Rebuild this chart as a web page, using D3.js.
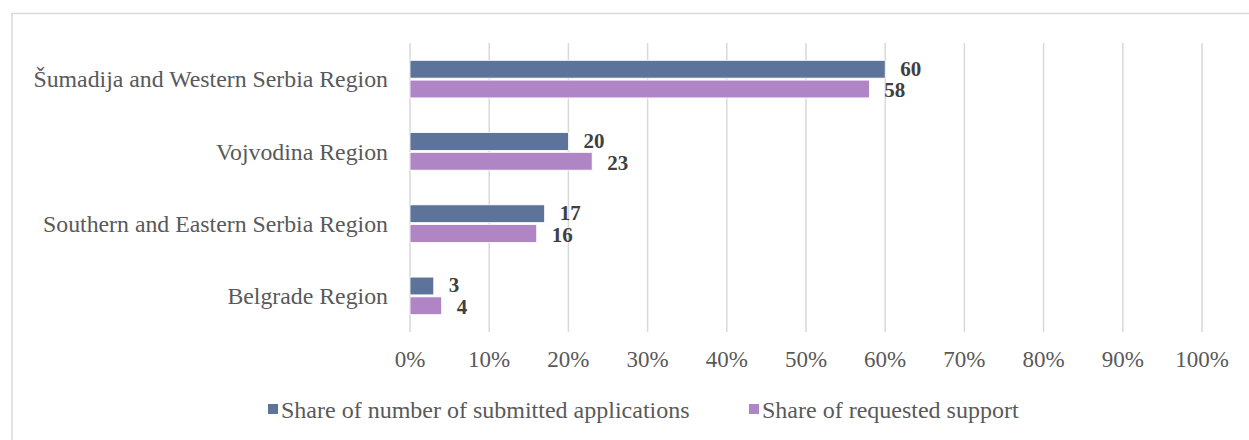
<!DOCTYPE html>
<html>
<head>
<meta charset="utf-8">
<script src="https://cdn.jsdelivr.net/npm/d3@7"></script>
<style>
  body { margin: 0; background: #fff; }
  text { font-family: "Liberation Serif", "Times New Roman", serif; }
</style>
</head>
<body>
<div id="chart"></div>
<script>
const regions = ['Šumadija and Western Serbia Region', 'Vojvodina Region', 'Southern and Eastern Serbia Region', 'Belgrade Region'];
const applications = [60, 20, 17, 3];
const support = [58, 23, 16, 4];
const seriesNames = ['Share of number of submitted applications', 'Share of requested support'];
const ticks = [0, 10, 20, 30, 40, 50, 60, 70, 80, 90, 100];

const W = 1249, H = 440;
const colors = ['#5e7399', '#af85c5'];

const svg = d3.select('#chart').append('svg')
  .attr('width', W).attr('height', H);

// outer frame
svg.append('rect')
  .attr('x', 12).attr('y', 13.5).attr('width', W + 20).attr('height', H + 20)
  .attr('fill', 'none').attr('stroke', '#d9d9d9').attr('stroke-width', 1.5);

const x = d3.scaleLinear().domain([0, 100]).range([410, 1202]);
const y = d3.scaleBand().domain(regions).range([43, 332]).paddingInner(0.48).paddingOuter(0.24);
const sub = d3.scaleBand().domain([0, 1]).range([0, y.bandwidth()]).paddingInner(0.1);

// gridlines
svg.append('g').selectAll('line')
  .data(ticks).join('line')
    .attr('x1', d => x(d)).attr('x2', d => x(d))
    .attr('y1', 43).attr('y2', 332)
    .attr('stroke', '#d9d9d9').attr('stroke-width', 1.5);

// tick labels
svg.append('g').selectAll('text')
  .data(ticks).join('text')
    .attr('x', d => x(d)).attr('y', 367)
    .attr('text-anchor', 'middle')
    .attr('font-size', '23px').attr('fill', '#595959')
    .text(d => d + '%');

// category labels
svg.append('g').selectAll('text')
  .data(regions).join('text')
    .attr('x', 388).attr('y', d => y(d) + y.bandwidth() / 2)
    .attr('dy', '0.35em')
    .attr('text-anchor', 'end')
    .attr('font-size', '23.8px').attr('fill', '#595959')
    .text(d => d);

const rows = [];
regions.forEach((r, i) => {
  rows.push({ region: r, s: 0, v: applications[i] });
  rows.push({ region: r, s: 1, v: support[i] });
});

svg.append('g').selectAll('rect')
  .data(rows).join('rect')
    .attr('x', x(0))
    .attr('y', d => y(d.region) + sub(d.s))
    .attr('width', d => x(d.v) - x(0))
    .attr('height', sub.bandwidth())
    .attr('fill', d => colors[d.s])
    .attr('stroke', '#fff').attr('stroke-width', 0.8);

// value labels (slightly pushed apart so the pair does not collide)
svg.append('g').selectAll('text')
  .data(rows).join('text')
    .attr('x', d => x(d.v) + 15)
    .attr('y', d => y(d.region) + sub(d.s) + sub.bandwidth() / 2 + (d.s ? 1 : -1))
    .attr('dy', '0.35em')
    .attr('font-size', '21px').attr('font-weight', 'bold').attr('fill', '#404040')
    .text(d => d.v);

// legend
const legendX = [268, 749];
const lg = svg.append('g').selectAll('g')
  .data(seriesNames).join('g')
    .attr('transform', (d, i) => `translate(${legendX[i]},410)`);
lg.append('rect')
  .attr('x', 0).attr('y', -6).attr('width', 10).attr('height', 10)
  .attr('fill', (d, i) => colors[i]);
lg.append('text')
  .attr('x', 13).attr('y', 0).attr('dy', '0.35em')
  .attr('font-size', '24px').attr('fill', '#595959')
  .text(d => d);
</script>
</body>
</html>
